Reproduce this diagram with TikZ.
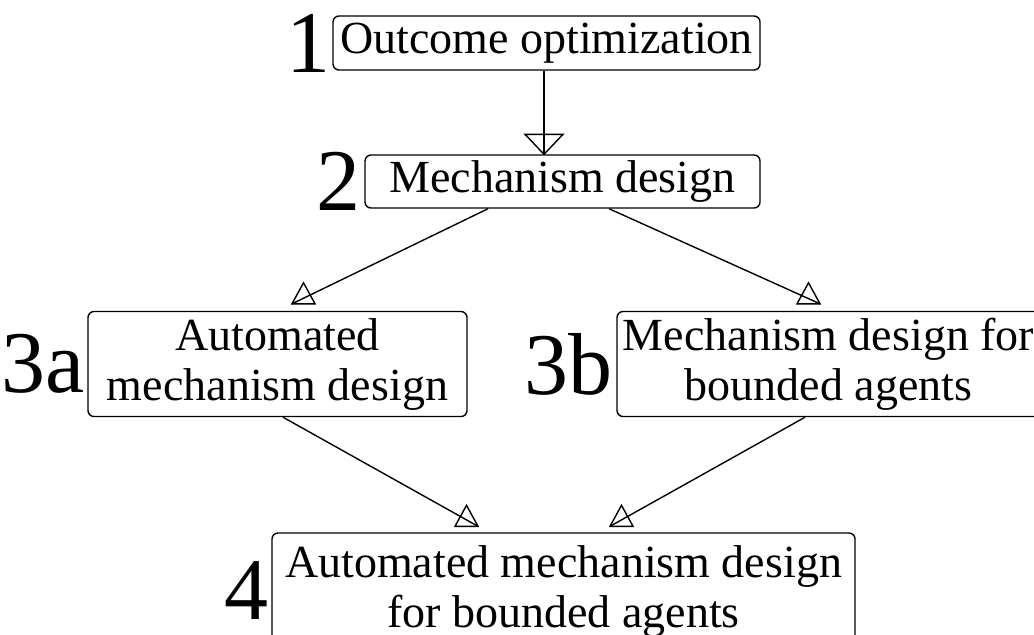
\documentclass[tikz,border=0pt]{standalone}
\usepackage{fontspec}
\setmainfont{Liberation Serif}
\usetikzlibrary{positioning,calc}
\tikzset{every picture/.style={line width=0.35pt},
  headdown/.pic={\draw (-19,-20) -- (19,-20) -- (0,0) -- cycle;},
  headup/.pic={\draw (-11.5,0) -- (11.5,0) -- (0,-21) -- cycle;}}

\begin{document}
\begin{tikzpicture}[x=0.25pt,y=-0.25pt]
\useasboundingbox (0,0) rectangle (1034,634);
\begin{scope}[every node/.style={draw,rounded corners=1.5pt,align=center,inner sep=0pt,
    font=\fontsize{11.5}{12.5}\selectfont}]
\node[minimum width=106.75pt,minimum height=13.5pt] (B1) at (546.5,43) {Outcome optimization};
\node[minimum width=98.75pt,minimum height=13.25pt] (B2) at (562.5,181.5) {Mechanism design};
\node[minimum width=94.75pt,minimum height=26.25pt] (B3a) at (277.5,364) {Automated\\mechanism design};
\node[minimum width=105.75pt,minimum height=26.25pt] (B3b) at (828.5,364) {Mechanism design for\\bounded agents};
\node[minimum width=145.75pt,minimum height=29pt] (B4) at (563.5,591) {Automated mechanism design\\for bounded agents};
\end{scope}

\begin{scope}[every node/.style={inner sep=0pt,font=\fontsize{22}{22}\selectfont}]
\node[left=0.2pt of B1] (L1) {1};
\node[left=0.8pt of B2] (L2) {2};
\node[left=0.4pt of B3a] (L3a) {3a};
\node[left=0.8pt of B3b] (L3b) {3b};
\node[left=0.6pt of B4] (L4) {4};
\end{scope}

\coordinate (T1) at ($(B2.north)+(-18.5,0)$);
\coordinate (T2) at ($(B3a.north)+(14.5,-7)$);
\coordinate (T3) at ($(B3b.north)+(-8.5,-7)$);
\coordinate (T4) at ($(B4.north)+(-85.5,-6)$);
\coordinate (T5) at ($(B4.north)+(46.5,-6)$);

\draw ($(B1.south)+(-2.5,0)$) -- (T1) pic {headdown};
\draw ($(B2.south)+(-74.5,0)$) -- (T2);
\path ($(T2)+(11.5,0)$) pic {headup};
\draw ($(B2.south)+(46.5,0)$) -- (T3);
\path ($(T3)+(-11.5,0)$) pic {headup};
\draw ($(B3a.south)+(5.5,0)$) -- (T4);
\path ($(T4)+(-11.5,0)$) pic {headup};
\draw ($(B3b.south)+(-23.5,0)$) -- (T5);
\path ($(T5)+(11.5,0)$) pic {headup};
\end{tikzpicture}
\end{document}
